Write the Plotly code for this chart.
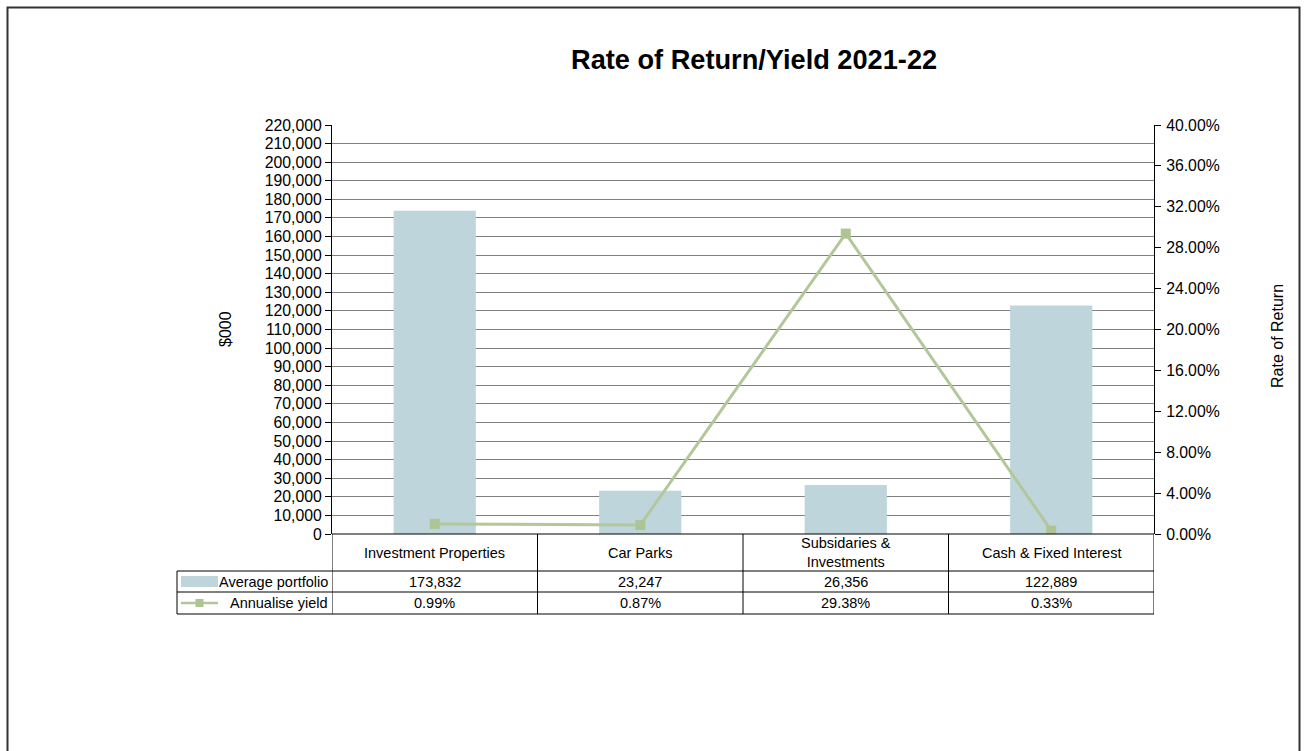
import plotly.graph_objects as go

categories = ["Investment Properties", "Car Parks", "Subsidaries &<br>Investments", "Cash & Fixed Interest"]
avg_portfolio = [173832, 23247, 26356, 122889]
annual_yield = [0.0099, 0.0087, 0.2938, 0.0033]
bar_name = "Average portfolio"
line_name = "Annualise yield"
title = "Rate of Return/Yield 2021-22"

W, H = 1306, 751
def px(x): return x / W
def py(y): return 1 - y / H

FONT = "Liberation Sans, Arial, sans-serif"
BAR_C = "#BDD5DB"
LINE_C = "#B3C79B"
MARK_C = "#AFC493"
TICK_FS = 15.8
TAB_FS = 14.5

x_idx = list(range(len(categories)))

fig = go.Figure()
fig.add_trace(go.Bar(x=x_idx, y=avg_portfolio, name=bar_name, marker_color=BAR_C,
                     marker_line_width=0, width=0.4, yaxis="y", showlegend=False))
fig.add_trace(go.Scatter(x=x_idx, y=annual_yield, name=line_name, mode="lines+markers",
                         line=dict(color=LINE_C, width=3),
                         marker=dict(symbol="square", size=10, color=MARK_C),
                         yaxis="y2", showlegend=False))

top, bottom = 125, 534
row0_b, row1_b, row2_b = 571, 592, 614
left_tab = 177
fig.update_layout(
    width=W, height=H, margin=dict(l=0, r=0, t=0, b=0, autoexpand=False),
    paper_bgcolor="white", plot_bgcolor="white",
    font=dict(family=FONT, size=13, color="black"),
    xaxis=dict(domain=[px(332), px(1154)], range=[-0.5, 3.5], showticklabels=False,
               showgrid=False, zeroline=False, showline=False, ticks="", automargin=False),
    yaxis=dict(domain=[py(bottom), py(top)], range=[0, 220000], dtick=10000,
               tickformat=",d", showgrid=True, gridcolor="#808080", gridwidth=1,
               zeroline=False, showline=True, linecolor="black", linewidth=1,
               ticks="outside", ticklen=6, tickcolor="black", automargin=False,
               tickfont=dict(size=TICK_FS, family=FONT)),
    yaxis2=dict(overlaying="y", side="right", range=[0, 0.4], dtick=0.04,
                tickformat=".2%", showgrid=False, zeroline=False, showline=True,
                linecolor="black", linewidth=1, ticks="outside", ticklen=6,
                tickcolor="black", automargin=False, ticklabelstandoff=2,
                tickfont=dict(size=TICK_FS, family=FONT)),
)

shapes = []
# outer border
shapes.append(dict(type="rect", xref="paper", yref="paper", x0=px(7.5), x1=px(1299.5),
                   y0=py(770), y1=py(7.5), line=dict(color="#333333", width=2)))
# table horizontal lines
shapes.append(dict(type="line", xref="paper", yref="paper", x0=px(332), x1=px(1154),
                   y0=py(bottom), y1=py(bottom), line=dict(color="black", width=1)))
for yy in (row0_b, row1_b, row2_b):
    shapes.append(dict(type="line", xref="paper", yref="paper", x0=px(left_tab), x1=px(1154),
                       y0=py(yy), y1=py(yy), line=dict(color="black", width=1)))
# left edge of table label column
shapes.append(dict(type="line", xref="paper", yref="paper", x0=px(left_tab), x1=px(left_tab),
                   y0=py(row0_b), y1=py(row2_b), line=dict(color="black", width=1)))
# vertical lines at category boundaries
for b in [-0.5, 0.5, 1.5, 2.5, 3.5]:
    shapes.append(dict(type="line", xref="x", yref="paper", x0=b, x1=b,
                       y0=py(bottom), y1=py(row2_b), line=dict(color="black", width=1)))
# legend keys
shapes.append(dict(type="rect", xref="paper", yref="paper", x0=px(181), x1=px(218),
                   y0=py(587), y1=py(576), fillcolor=BAR_C, line=dict(width=0)))
shapes.append(dict(type="line", xref="paper", yref="paper", x0=px(181), x1=px(218),
                   y0=py(603), y1=py(603), line=dict(color=LINE_C, width=2.5)))
shapes.append(dict(type="rect", xref="paper", yref="paper", x0=px(195.5), x1=px(203.5),
                   y0=py(607), y1=py(599), fillcolor=MARK_C, line=dict(width=0)))

ann = []
ann.append(dict(text="<b>" + title + "</b>", xref="paper", yref="paper", x=px(754), y=py(59),
                showarrow=False, font=dict(size=27.2, family=FONT), xanchor="center", yanchor="middle"))
ann.append(dict(text="$000", xref="paper", yref="paper", x=px(226), y=py(329), textangle=-90,
                showarrow=False, font=dict(size=16, family=FONT), xanchor="center", yanchor="middle"))
ann.append(dict(text="Rate of Return", xref="paper", yref="paper", x=px(1277), y=py(336), textangle=-90,
                showarrow=False, font=dict(size=16, family=FONT), xanchor="center", yanchor="middle"))
for i, c in enumerate(categories):
    ann.append(dict(text=c, xref="x", yref="paper", x=i, y=py((bottom + row0_b) / 2),
                    showarrow=False, font=dict(size=TAB_FS, family=FONT), xanchor="center", yanchor="middle"))
    ann.append(dict(text=f"{avg_portfolio[i]:,}", xref="x", yref="paper", x=i, y=py((row0_b + row1_b) / 2),
                    showarrow=False, font=dict(size=TAB_FS, family=FONT), xanchor="center", yanchor="middle"))
    ann.append(dict(text=f"{annual_yield[i]*100:.2f}%", xref="x", yref="paper", x=i, y=py((row1_b + row2_b) / 2),
                    showarrow=False, font=dict(size=TAB_FS, family=FONT), xanchor="center", yanchor="middle"))
ann.append(dict(text=bar_name, xref="paper", yref="paper", x=px(330), y=py((row0_b + row1_b) / 2),
                showarrow=False, font=dict(size=TAB_FS, family=FONT), xanchor="right", yanchor="middle"))
ann.append(dict(text=line_name, xref="paper", yref="paper", x=px(330), y=py((row1_b + row2_b) / 2),
                showarrow=False, font=dict(size=TAB_FS, family=FONT), xanchor="right", yanchor="middle"))

fig.update_layout(shapes=shapes, annotations=ann)

fig.write_html("out.html", config={"displayModeBar": False},
               post_script="document.body.style.margin='0';document.body.style.overflow='hidden';")
